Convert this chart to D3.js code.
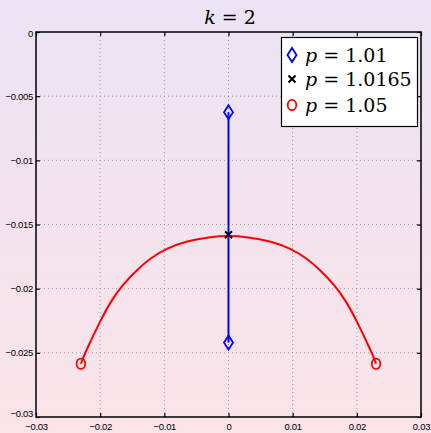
<!DOCTYPE html>
<html>
<head>
<meta charset="utf-8">
<script src="https://cdn.jsdelivr.net/npm/d3@7"></script>
<style>
  html, body { margin: 0; padding: 0; }
  body { width: 431px; height: 433px; overflow: hidden; }
  svg { display: block; }
</style>
</head>
<body>
<svg id="chart" width="431" height="433"></svg>
<script>
// Branch for p = 1.01: vertical segment on the imaginary axis
const blueX = [0, 0];
const blueY = [-0.00625, -0.0242];

// Critical value p = 1.0165: single point where branches meet
const crossX = [0];
const crossY = [-0.0158];

// Branch for p = 1.05: arc between two end points
const redX = [-0.0230, -0.0224, -0.0198, -0.0182, -0.0166, -0.0143, -0.0122, -0.0096, -0.0065, -0.0030, 0,
              0.0030, 0.0065, 0.0096, 0.0122, 0.0143, 0.0166, 0.0182, 0.0198, 0.0224, 0.0230];
const redY = [-0.02585, -0.02504, -0.02231, -0.02088, -0.01975, -0.01855, -0.01763, -0.01685, -0.01629, -0.01597, -0.01587,
              -0.01597, -0.01629, -0.01685, -0.01763, -0.01855, -0.01975, -0.02088, -0.02231, -0.02504, -0.02585];
const redEndX = [-0.0230, 0.0230];
const redEndY = [-0.02585, -0.02585];

const xTicks = [-0.03, -0.02, -0.01, 0, 0.01, 0.02, 0.03];
const yTicks = [0, -0.005, -0.01, -0.015, -0.02, -0.025, -0.03];
const legendLabels = ["1.01", "1.0165", "1.05"];

const W = 431, H = 433;
const m = { left: 36, right: 10, top: 32, bottom: 16 };
const svg = d3.select("#chart");
const serif = "'DejaVu Serif', serif";
const sans = "'Liberation Sans', 'Arimo', Arial, sans-serif";

// soft vertical background gradient
const defs = svg.append("defs");
const grad = defs.append("linearGradient").attr("id", "bg").attr("x1", 0).attr("y1", 0).attr("x2", 0).attr("y2", 1);
grad.append("stop").attr("offset", "0%").attr("stop-color", "#ebe3f4");
grad.append("stop").attr("offset", "100%").attr("stop-color", "#fbe3e8");
svg.append("rect").attr("width", W).attr("height", H).attr("fill", "url(#bg)");

const x = d3.scaleLinear().domain([-0.03, 0.03]).range([m.left, W - m.right]);
const y = d3.scaleLinear().domain([-0.03, 0]).range([H - m.bottom, m.top]);

const fmt = v => (v === 0 ? "0" : String(v).replace("-", "\u2212"));

// dotted grid
const grid = svg.append("g").attr("stroke", "#9a9a9a").attr("stroke-width", 1).attr("stroke-dasharray", "1,3");
xTicks.slice(1, -1).forEach(t => {
  grid.append("line").attr("x1", x(t)).attr("x2", x(t)).attr("y1", y(0)).attr("y2", y(-0.03));
});
yTicks.slice(1, -1).forEach(t => {
  grid.append("line").attr("x1", x(-0.03)).attr("x2", x(0.03)).attr("y1", y(t)).attr("y2", y(t));
});

// axes with inward ticks on all four sides
const tickLen = 4;
const axB = svg.append("g").attr("transform", `translate(0,${y(-0.03)})`)
  .call(d3.axisBottom(x).tickValues(xTicks).tickSizeInner(-tickLen).tickSizeOuter(0).tickPadding(8).tickFormat(fmt));
const axT = svg.append("g").attr("transform", `translate(0,${y(0)})`)
  .call(d3.axisTop(x).tickValues(xTicks).tickSizeInner(-tickLen).tickSizeOuter(0).tickFormat(""));
const axL = svg.append("g").attr("transform", `translate(${x(-0.03)},0)`)
  .call(d3.axisLeft(y).tickValues(yTicks).tickSizeInner(-tickLen).tickSizeOuter(0).tickPadding(3).tickFormat(fmt));
const axR = svg.append("g").attr("transform", `translate(${x(0.03)},0)`)
  .call(d3.axisRight(y).tickValues(yTicks).tickSizeInner(-tickLen).tickSizeOuter(0).tickFormat(""));
[axB, axT, axL, axR].forEach(a => {
  a.select(".domain").remove();
  a.selectAll("line").attr("stroke", "#000").attr("stroke-width", 1.2);
  a.selectAll("text").attr("font-family", sans).attr("font-size", 9.5)
    .attr("letter-spacing", -0.3).attr("fill", "#000");
});
axL.selectAll(".tick text").filter(d => d === -0.03).attr("dy", "-0.05em");
axL.selectAll(".tick text").filter(d => d === 0).attr("dy", "0.45em");
axB.selectAll(".tick text").attr("dy", "0.5em");

// frame
svg.append("rect").attr("x", x(-0.03)).attr("y", y(0))
  .attr("width", x(0.03) - x(-0.03)).attr("height", y(-0.03) - y(0))
  .attr("fill", "none").attr("stroke", "#000").attr("stroke-width", 1.5);

// marker shapes
const diamond = (cx, cy) => `M${cx},${cy - 7}L${cx + 4.5},${cy}L${cx},${cy + 7}L${cx - 4.5},${cy}Z`;
const cross = (cx, cy) => `M${cx - 3.5},${cy - 3.5}L${cx + 3.5},${cy + 3.5}M${cx - 3.5},${cy + 3.5}L${cx + 3.5},${cy - 3.5}`;

// red arc
const line = d3.line().x(d => x(d[0])).y(d => y(d[1])).curve(d3.curveBasis);
svg.append("path").datum(d3.zip(redX, redY)).attr("d", line)
  .attr("fill", "none").attr("stroke", "#ff0000").attr("stroke-width", 2);
svg.selectAll(".redEnd").data(d3.zip(redEndX, redEndY)).join("ellipse")
  .attr("cx", d => x(d[0])).attr("cy", d => y(d[1])).attr("rx", 4.3).attr("ry", 5.2)
  .attr("fill", "none").attr("stroke", "#ff0000").attr("stroke-width", 1.8);

// blue segment
const bluePts = d3.zip(blueX, blueY);
svg.append("path").datum(bluePts).attr("d", d3.line().x(d => x(d[0])).y(d => y(d[1])))
  .attr("fill", "none").attr("stroke", "#0000ff").attr("stroke-width", 2);
svg.selectAll(".blueEnd").data(bluePts).join("path")
  .attr("d", d => diamond(x(d[0]), y(d[1])))
  .attr("fill", "none").attr("stroke", "#0000ff").attr("stroke-width", 1.8);

// critical point
svg.selectAll(".crit").data(d3.zip(crossX, crossY)).join("path")
  .attr("d", d => cross(x(d[0]), y(d[1])))
  .attr("stroke", "#000").attr("stroke-width", 2);

// title
const title = svg.append("text").attr("x", 230).attr("y", 24).attr("text-anchor", "middle")
  .attr("font-family", serif).attr("font-size", 19).attr("fill", "#000");
title.append("tspan").attr("font-style", "italic").text("k");
title.append("tspan").text(" = 2");

// legend
const lg = svg.append("g");
lg.append("rect").attr("x", 281.5).attr("y", 37.5).attr("width", 136).attr("height", 89)
  .attr("fill", "#fff").attr("stroke", "#000").attr("stroke-width", 1.2);
const rows = [55, 79, 105];
lg.append("path").attr("d", diamond(292, rows[0])).attr("fill", "none").attr("stroke", "#0000ff").attr("stroke-width", 1.8);
lg.append("path").attr("d", cross(292, rows[1])).attr("stroke", "#000").attr("stroke-width", 2);
lg.append("ellipse").attr("cx", 292).attr("cy", rows[2]).attr("rx", 4.3).attr("ry", 5.2)
  .attr("fill", "none").attr("stroke", "#ff0000").attr("stroke-width", 1.8);
legendLabels.forEach((lab, i) => {
  const t = lg.append("text").attr("x", 305).attr("y", rows[i] + 7)
    .attr("font-family", serif).attr("font-size", 19).attr("fill", "#000");
  t.append("tspan").attr("font-style", "italic").text("p");
  t.append("tspan").text(" = " + lab);
});
</script>
</body>
</html>
